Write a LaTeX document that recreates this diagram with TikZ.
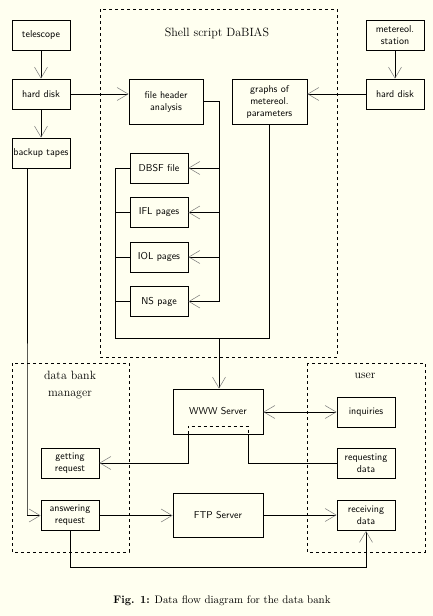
\documentclass[tikz,border=0pt]{standalone}
\usepackage{tikz}
\usetikzlibrary{arrows.meta,positioning,calc}
\usepackage{xcolor}
\definecolor{dbcream}{RGB}{255,255,240}
\definecolor{dbtip}{RGB}{120,120,120}
\tikzstyle{box} = [draw, line width=0.8pt, minimum width=58pt, minimum height=30pt, inner sep=1pt, align=center, font=\sffamily]
\tikzstyle{frame} = [line width=0.8pt, dash pattern=on 3pt off 3pt]
\tikzstyle{title} = [align=center, font=\large]
\tikzstyle{line} = [line width=0.8pt]
\tikzstyle{arrow} = [line width=0.8pt, -{Straight Barb[length=11pt,width=13pt,line width=0.5pt,color=dbtip]}]
\tikzstyle{arrows2} = [line width=0.8pt, {Straight Barb[length=11pt,width=13pt,line width=0.5pt,color=dbtip]}-{Straight Barb[length=11pt,width=13pt,line width=0.5pt,color=dbtip]}]

\begin{document}
\begin{tikzpicture}[x=1pt, y=-1pt]
\fill[dbcream] (0,0) rectangle (433,616);
\useasboundingbox (0,0) rectangle (433,616);

% Dashed frames
\draw[frame] (100,9) rectangle (337,357);
\draw[frame] (12,363) rectangle (129,552);
\draw[frame] (307,363) rectangle (425,552);
\node[title] (shelltitle) at (217,33) {Shell script DaBIAS};
\node[title] (mgrtitle) at (70,385) {data bank\\[3pt]manager};
\node[title] (usertitle) at (365,376) {user};

% Left column
\node[box] (tel) at (41,35) {telescope};
\node[box] (diskL) at (41,94) {hard disk};
\node[box] (tapes) at (41,153) {backup tapes};

% Right column
\node[box] (station) at (395,35) {metereol.\\station};
\node[box] (diskR) at (395,94) {hard disk};

% Shell script
\node[box, minimum width=74pt, minimum height=45pt] (header) at (166,101.5) {file header\\analysis};
\node[box, minimum width=75pt, minimum height=45pt] (graphs) at (269.5,101.5) {graphs of\\metereol.\\parameters};
\node[box] (dbsf) at (159,168) {DBSF file};
\node[box] (ifl) at (159,212.5) {IFL pages};
\node[box] (iol) at (159,257) {IOL pages};
\node[box] (ns) at (159,301.5) {NS page};

% Servers
\node[box, minimum width=90pt, minimum height=45pt] (www) at (218,411.5) {WWW Server};
\node[box, minimum width=90pt, minimum height=44pt] (ftp) at (218,515) {FTP Server};

% Data bank manager
\node[box] (getreq) at (70,463) {getting\\request};
\node[box] (ansreq) at (70,515.5) {answering\\request};

% User
\node[box] (inq) at (366,412) {inquiries};
\node[box] (reqdata) at (366,463) {requesting\\data};
\node[box] (recdata) at (366,515.5) {receiving\\data};

% Bus coordinates
\coordinate (rbus) at (219,0);
\coordinate (lbus) at (115,338);
\coordinate (join) at (219,338);
\coordinate (tback) at (27,515);
\coordinate (wl) at (188,0);
\coordinate (wr) at (248,0);
\coordinate (wtop) at (0,426);
\coordinate (low) at (0,567);

% Connectors
\draw[arrow] (tel) -- (diskL);
\draw[arrow] (diskL) -- (tapes);
\draw[arrow] (station) -- (diskR);
\draw[arrow] (diskL.east) -- (diskL.east -| header.west);
\draw[arrow] (diskR.west) -- (diskR.west -| graphs.east);

\draw[line] (header.east) -- (header.east -| rbus) -- (ns.east -| rbus);
\foreach \b in {dbsf,ifl,iol,ns}
  \draw[arrow] (\b.east -| rbus) -- (\b.east);

\draw[line] (dbsf.west) -- (dbsf.west -| lbus) -- (lbus) -- (lbus -| graphs.south) -- (graphs.south);
\foreach \b in {ifl,iol,ns}
  \draw[line] (\b.west) -- (\b.west -| lbus);
\draw[arrow] (join) -- (join |- www.north);

\draw[arrow] (tapes.south -| tback) -- (tback) -- (tback |- ansreq.west) -- (ansreq.west);

\draw[frame] (www.south -| wl) -- (wl |- wtop) -- (wr |- wtop) -- (www.south -| wr);
\draw[arrow] (www.south -| wl) |- (getreq.east);
\draw[line] (reqdata.west) -| (www.south -| wr);
\draw[arrows2] (www.east |- inq.west) -- (inq.west);

\draw[arrow] (ansreq.east) -- (ansreq.east -| ftp.west);
\draw[arrow] (ftp.east) -- (ftp.east -| recdata.west);
\draw[arrow] (ansreq.south) -- (ansreq.south |- low) -| (recdata.south);

% Caption
\node[font=\fontsize{10.9}{13}\selectfont] (caption) at (222,601) {\textbf{Fig. 1:} Data flow diagram for the data bank};
\end{tikzpicture}
\end{document}
